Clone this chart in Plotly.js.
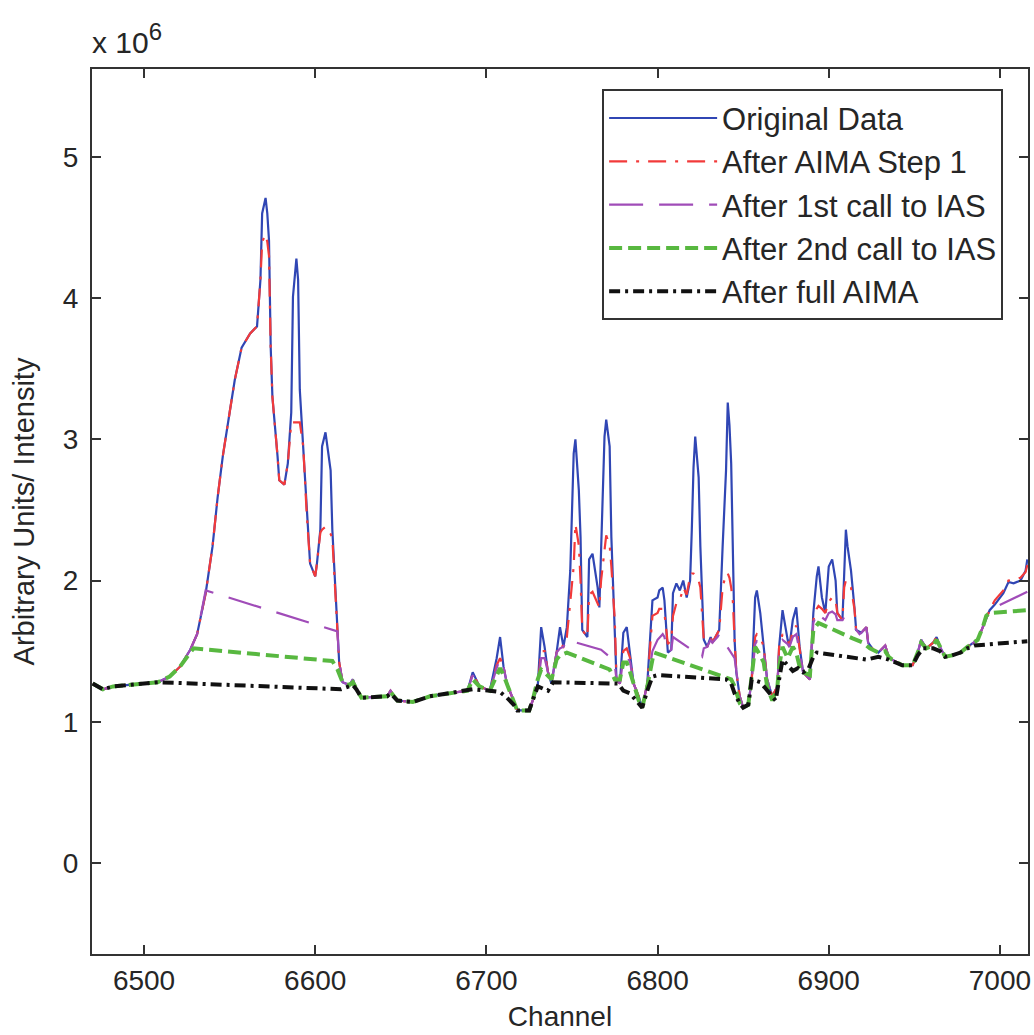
<!DOCTYPE html>
<html>
<head>
<meta charset="utf-8">
<script src="https://cdn.plot.ly/plotly-3.0.1.min.js"></script>
<style>html,body{margin:0;padding:0;background:#fff;}#chart{width:1034px;height:1035px;}</style>
</head>
<body>
<div id="chart"></div>
<script>
// Values in units of 1e6 (axis multiplier "x 10^6")
const seriesNames = ["Original Data", "After AIMA Step 1", "After 1st call to IAS", "After 2nd call to IAS", "After full AIMA"];

const originalX = [6470,6476,6482,6490,6502,6508,6515,6521,6527,6531,6536,6540,6543,6546,6550,6553,6557,6562,6566,6568,6569,6571,6572,6573,6574,6575,6578,6579,6582,6584,6586,6587,6589,6590,6591,6593,6595,6597,6600,6601,6603,6604,6606,6607,6609,6610,6612,6613,6614,6616,6620,6622,6624,6627,6642,6644,6648,6657,6667,6677,6689,6692,6694,6696,6702,6706,6708,6710,6712,6716,6718,6725,6727,6730,6732,6734,6736,6738,6741,6743,6745,6747,6749,6751,6752,6754,6755,6756,6759,6760,6762,6765,6766,6767,6769,6770,6772,6773,6775,6776,6778,6780,6782,6784,6786,6789,6791,6794,6797,6800,6801,6803,6804,6806,6808,6809,6811,6813,6815,6817,6819,6820,6821,6822,6824,6825,6827,6829,6831,6832,6835,6836,6838,6840,6841,6842,6843,6844,6845,6846,6848,6850,6853,6855,6857,6858,6860,6862,6864,6867,6870,6871,6873,6876,6877,6879,6881,6883,6885,6889,6891,6893,6894,6896,6898,6900,6902,6904,6905,6908,6909,6910,6911,6913,6915,6916,6919,6922,6923,6926,6929,6933,6935,6937,6943,6949,6952,6954,6957,6961,6963,6965,6968,6972,6977,6981,6987,6990,6992,6994,6997,7002,7005,7008,7012,7015,7016];
const originalY = [1.27,1.23,1.25,1.26,1.27,1.28,1.32,1.39,1.51,1.62,1.91,2.24,2.59,2.88,3.19,3.42,3.65,3.75,3.80,4.13,4.60,4.71,4.60,4.41,3.65,3.30,2.88,2.71,2.68,2.83,3.19,4.01,4.28,4.13,3.35,2.95,2.48,2.12,2.03,2.12,2.36,2.95,3.05,2.95,2.78,2.36,1.88,1.63,1.42,1.28,1.26,1.30,1.23,1.17,1.18,1.22,1.15,1.14,1.18,1.20,1.22,1.35,1.30,1.25,1.22,1.45,1.60,1.39,1.27,1.15,1.08,1.08,1.15,1.25,1.67,1.53,1.35,1.27,1.49,1.67,1.53,1.67,2.07,2.90,3.00,2.64,2.31,1.65,1.60,2.15,2.19,1.95,1.81,2.19,3.02,3.14,2.95,2.31,1.72,1.30,1.27,1.63,1.67,1.49,1.27,1.18,1.10,1.27,1.86,1.88,1.93,1.95,1.86,1.49,1.51,1.91,1.98,1.93,2.00,1.88,2.00,2.36,2.80,3.02,2.73,2.24,1.58,1.53,1.60,1.56,1.63,1.65,2.24,2.78,3.26,3.10,2.83,2.24,1.58,1.35,1.18,1.10,1.12,1.30,1.88,1.93,1.77,1.53,1.30,1.18,1.25,1.53,1.79,1.58,1.53,1.72,1.81,1.53,1.35,1.30,1.77,2.03,2.10,1.88,1.77,2.10,2.15,2.00,1.77,1.72,2.12,2.36,2.24,2.07,1.81,1.65,1.63,1.67,1.56,1.51,1.49,1.54,1.46,1.44,1.40,1.40,1.49,1.58,1.52,1.56,1.60,1.53,1.46,1.47,1.49,1.53,1.58,1.67,1.74,1.79,1.83,1.91,1.99,1.98,2.00,2.07,2.15];

const step1X = [6470,6476,6482,6490,6502,6508,6515,6521,6527,6531,6536,6540,6543,6546,6550,6553,6557,6562,6566,6568,6569,6571,6572,6573,6574,6575,6578,6579,6582,6584,6586,6591,6593,6595,6597,6600,6601,6603,6604,6606,6607,6609,6610,6612,6613,6614,6616,6620,6622,6624,6627,6642,6644,6648,6657,6667,6677,6689,6692,6694,6696,6702,6706,6708,6710,6712,6716,6718,6725,6727,6730,6732,6734,6736,6738,6741,6743,6745,6747,6749,6751,6752,6754,6755,6756,6759,6760,6762,6765,6766,6767,6769,6770,6772,6773,6775,6776,6778,6780,6782,6784,6786,6789,6791,6794,6797,6800,6801,6803,6804,6806,6808,6809,6811,6813,6815,6817,6819,6820,6821,6822,6824,6825,6827,6829,6831,6832,6835,6836,6838,6840,6841,6842,6843,6844,6845,6846,6848,6850,6853,6855,6857,6858,6860,6862,6864,6867,6870,6871,6873,6876,6877,6879,6881,6883,6885,6889,6891,6893,6894,6896,6898,6900,6902,6904,6905,6908,6909,6910,6911,6913,6915,6916,6919,6922,6923,6926,6929,6933,6935,6937,6943,6949,6952,6954,6957,6961,6963,6965,6968,6972,6977,6981,6987,6990,6992,6994,6997,7002,7005,7008,7012,7015,7016];
const step1Y = [1.27,1.23,1.25,1.26,1.27,1.28,1.32,1.39,1.51,1.62,1.91,2.24,2.59,2.88,3.19,3.42,3.65,3.75,3.80,4.13,4.40,4.45,4.40,4.30,3.65,3.30,2.88,2.71,2.68,2.83,3.12,3.12,2.95,2.48,2.12,2.03,2.12,2.34,2.36,2.38,2.36,2.33,2.30,1.88,1.63,1.42,1.28,1.26,1.30,1.23,1.17,1.18,1.22,1.15,1.14,1.18,1.20,1.22,1.34,1.29,1.25,1.22,1.40,1.45,1.39,1.27,1.15,1.08,1.08,1.15,1.25,1.50,1.50,1.35,1.27,1.49,1.55,1.53,1.60,1.85,2.10,2.40,2.25,2.00,1.65,1.60,1.90,1.92,1.83,1.81,2.00,2.25,2.32,2.25,2.10,1.72,1.30,1.27,1.50,1.52,1.45,1.27,1.18,1.10,1.27,1.75,1.77,1.80,1.80,1.77,1.55,1.58,1.75,1.84,1.86,1.95,1.90,2.03,2.05,2.05,2.03,2.00,1.95,1.58,1.53,1.60,1.56,1.63,1.65,1.95,2.05,2.05,2.02,1.95,1.85,1.58,1.35,1.18,1.10,1.12,1.30,1.60,1.62,1.60,1.53,1.30,1.18,1.25,1.53,1.62,1.58,1.53,1.65,1.68,1.53,1.35,1.30,1.72,1.80,1.82,1.80,1.77,1.85,1.88,1.86,1.77,1.72,1.95,2.00,1.98,1.95,1.80,1.65,1.63,1.67,1.56,1.51,1.49,1.54,1.46,1.44,1.40,1.40,1.49,1.58,1.52,1.56,1.60,1.53,1.46,1.47,1.49,1.53,1.58,1.67,1.74,1.79,1.86,1.93,2.00,2.01,2.02,2.06,2.11];

const ias1X = [6470,6476,6482,6490,6502,6508,6515,6521,6527,6531,6536,6613,6614,6616,6620,6622,6624,6627,6642,6644,6648,6657,6667,6677,6689,6692,6694,6696,6702,6706,6708,6710,6712,6716,6718,6725,6727,6730,6732,6734,6736,6738,6741,6743,6745,6747,6767,6773,6775,6776,6778,6780,6782,6784,6786,6789,6791,6794,6797,6800,6803,6804,6806,6808,6809,6826,6827,6829,6831,6832,6835,6836,6845,6846,6848,6850,6853,6855,6857,6858,6860,6862,6864,6867,6870,6871,6873,6876,6877,6879,6881,6883,6885,6889,6891,6893,6894,6896,6898,6900,6902,6904,6905,6908,6909,6913,6918,6919,6922,6923,6926,6929,6933,6935,6937,6943,6949,6952,6954,6957,6961,6963,6965,6968,6972,6977,6981,6987,6990,6992,6994,6997,7016];
const ias1Y = [1.27,1.23,1.25,1.26,1.27,1.28,1.32,1.39,1.51,1.62,1.93,1.64,1.42,1.28,1.26,1.30,1.23,1.17,1.18,1.22,1.15,1.14,1.18,1.20,1.22,1.33,1.28,1.25,1.22,1.38,1.45,1.39,1.27,1.15,1.08,1.08,1.15,1.25,1.45,1.45,1.35,1.27,1.49,1.52,1.53,1.58,1.51,1.45,1.40,1.30,1.27,1.45,1.47,1.42,1.27,1.18,1.10,1.27,1.50,1.58,1.62,1.60,1.49,1.51,1.60,1.46,1.52,1.53,1.58,1.56,1.60,1.62,1.45,1.35,1.18,1.10,1.12,1.30,1.55,1.57,1.55,1.50,1.30,1.18,1.25,1.50,1.58,1.55,1.53,1.60,1.62,1.50,1.35,1.30,1.70,1.77,1.78,1.74,1.72,1.77,1.78,1.76,1.72,1.72,1.74,1.70,1.62,1.63,1.67,1.56,1.51,1.49,1.54,1.46,1.44,1.40,1.40,1.49,1.58,1.52,1.56,1.60,1.53,1.46,1.47,1.49,1.53,1.58,1.67,1.74,1.79,1.81,1.92];

const ias2X = [6470,6476,6482,6490,6502,6508,6515,6521,6527,6529,6610,6613,6616,6620,6622,6624,6627,6642,6644,6648,6657,6667,6677,6689,6692,6694,6696,6702,6706,6708,6710,6712,6716,6718,6725,6727,6730,6732,6734,6736,6738,6741,6743,6747,6772,6775,6778,6780,6782,6784,6786,6789,6791,6794,6797,6798,6843,6845,6848,6850,6853,6855,6857,6859,6862,6864,6867,6870,6871,6873,6876,6879,6881,6883,6885,6889,6891,6894,6906,6914,6920,6924,6929,6933,6935,6937,6943,6949,6952,6954,6957,6961,6963,6965,6968,6972,6977,6981,6987,6990,6992,6994,7016];
const ias2Y = [1.27,1.23,1.25,1.26,1.27,1.28,1.32,1.39,1.49,1.52,1.43,1.37,1.28,1.26,1.28,1.23,1.17,1.18,1.21,1.15,1.14,1.18,1.20,1.22,1.30,1.27,1.25,1.22,1.33,1.38,1.33,1.27,1.15,1.08,1.08,1.15,1.30,1.37,1.35,1.32,1.30,1.44,1.47,1.49,1.37,1.30,1.30,1.42,1.42,1.35,1.27,1.15,1.10,1.25,1.44,1.49,1.30,1.25,1.13,1.10,1.12,1.30,1.53,1.49,1.42,1.25,1.15,1.25,1.39,1.53,1.45,1.53,1.49,1.39,1.35,1.33,1.65,1.70,1.63,1.59,1.56,1.52,1.49,1.50,1.46,1.44,1.40,1.40,1.49,1.56,1.52,1.54,1.58,1.53,1.46,1.47,1.49,1.53,1.58,1.67,1.75,1.77,1.79];

const fullX = [6470,6476,6482,6490,6502,6508,6615,6620,6622,6624,6627,6642,6644,6648,6657,6667,6677,6689,6692,6702,6708,6712,6716,6718,6725,6727,6730,6736,6739,6777,6780,6784,6789,6791,6794,6797,6800,6840,6843,6845,6848,6850,6853,6855,6860,6864,6867,6869,6871,6873,6876,6879,6882,6885,6888,6891,6893,6922,6929,6935,6943,6949,6952,6955,6961,6965,6968,6972,6977,6981,6985,7016];
const fullY = [1.27,1.23,1.25,1.26,1.27,1.28,1.23,1.25,1.26,1.23,1.17,1.18,1.20,1.15,1.14,1.18,1.20,1.22,1.23,1.22,1.21,1.17,1.12,1.08,1.08,1.15,1.25,1.22,1.28,1.27,1.22,1.20,1.13,1.10,1.22,1.32,1.33,1.30,1.27,1.20,1.13,1.10,1.12,1.30,1.28,1.22,1.18,1.15,1.30,1.44,1.40,1.36,1.38,1.35,1.37,1.46,1.49,1.44,1.46,1.44,1.40,1.40,1.47,1.52,1.52,1.50,1.46,1.47,1.49,1.52,1.54,1.57];

const xTicks = [6500, 6600, 6700, 6800, 6900, 7000];
const yTicks = [0, 1, 2, 3, 4, 5];

const FONT = "Liberation Sans, Arial, Helvetica, sans-serif";
const TXT = "#262626";

const traces = [
  {x: originalX, y: originalY, name: seriesNames[0], mode: "lines",
   line: {color: "#3046b4", width: 2.2}},
  {x: step1X, y: step1Y, name: seriesNames[1], mode: "lines",
   line: {color: "#f23a3a", width: 2.2, dash: "18px,9px,3px,9px"}},
  {x: ias1X, y: ias1Y, name: seriesNames[2], mode: "lines",
   line: {color: "#a04cb8", width: 2.2, dash: "34px,16px"}},
  {x: ias2X, y: ias2Y, name: seriesNames[3], mode: "lines",
   line: {color: "#58b840", width: 4, dash: "13px,6px"}},
  {x: fullX, y: fullY, name: seriesNames[4], mode: "lines",
   line: {color: "#111111", width: 4, dash: "11px,5px,3px,5px"}}
];

const axisCommon = {
  showgrid: false, zeroline: false, showline: true, linecolor: "#333", linewidth: 2,
  mirror: "ticks", ticks: "inside", ticklen: 9, tickwidth: 2, tickcolor: "#333",
  tickfont: {family: FONT, size: 28, color: TXT}
};

const layout = {
  width: 1034, height: 1035,
  margin: {l: 92, r: 6, t: 69, b: 81},
  paper_bgcolor: "#fff", plot_bgcolor: "#fff",
  font: {family: FONT, color: TXT},
  showlegend: true,
  xaxis: Object.assign({}, axisCommon, {
    range: [6469.6, 7016.4], tickvals: xTicks, ticktext: xTicks.map(String),
    title: {text: "Channel", font: {family: FONT, size: 28, color: TXT}, standoff: 12}
  }),
  yaxis: Object.assign({}, axisCommon, {
    range: [-0.645, 5.623], tickvals: yTicks, ticktext: yTicks.map(String),
    ticklabelstandoff: 6,
    title: {text: "Arbitrary Units/ Intensity", font: {family: FONT, size: 29, color: TXT}, standoff: 20}
  }),
  legend: {
    x: 0.545, y: 0.977, xanchor: "left", yanchor: "top",
    bgcolor: "#fff", bordercolor: "#333", borderwidth: 2,
    font: {family: FONT, size: 31, color: TXT},
    itemwidth: 108, tracegroupgap: 0
  },
  annotations: [{
    xref: "paper", yref: "paper", x: 0, y: 1, xanchor: "left", yanchor: "bottom",
    yshift: 8, xshift: -2, showarrow: false,
    text: "x 10<sup><span style='font-size:24px'>6</span></sup>",
    font: {family: FONT, size: 30, color: TXT}
  }]
};

Plotly.newPlot("chart", traces, layout, {displayModeBar: false, staticPlot: true});
</script>
</body>
</html>
